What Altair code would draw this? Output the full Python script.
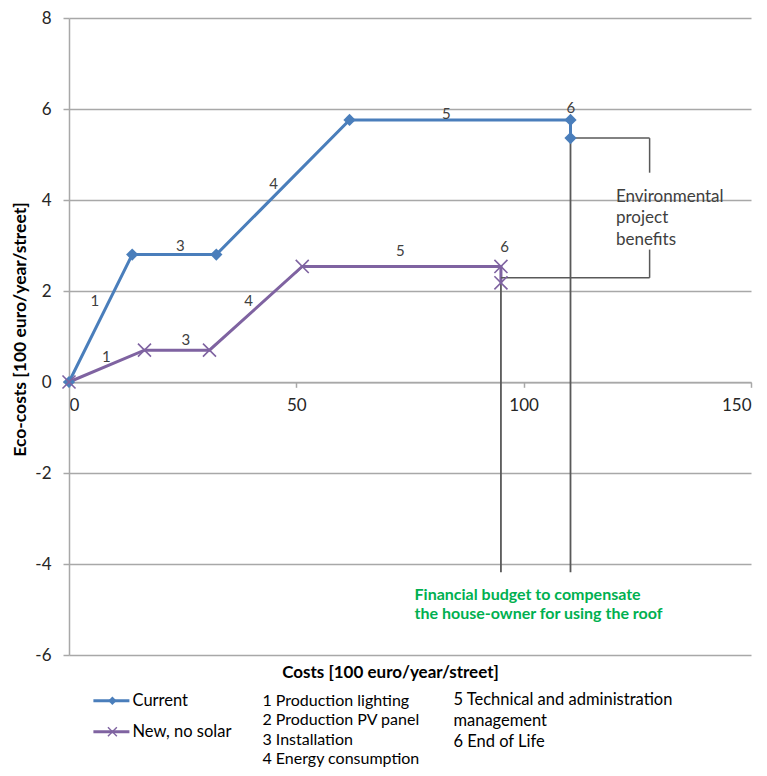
import altair as alt
import pandas as pd

# ---- data ----
series = ["Current", "New, no solar"]
colors = ["#4a7ebb", "#7f63a1"]

cur_x = [0, 13.9, 32.4, 61.7, 110.3, 110.3]
cur_y = [0, 2.80, 2.80, 5.76, 5.76, 5.36]
new_x = [0, 16.6, 30.9, 51.3, 95.0, 95.0]
new_y = [0, 0.70, 0.70, 2.54, 2.54, 2.18]

cur_lab = ["1", "3", "4", "5", "6"]
cur_lab_x = [5.7, 24.5, 45.0, 83.0, 110.4]
cur_lab_y = [1.77, 3.00, 4.36, 5.90, 6.03]
new_lab = ["1", "3", "4", "5", "6"]
new_lab_x = [8.2, 25.7, 39.5, 72.9, 95.8]
new_lab_y = [0.55, 0.92, 1.77, 2.89, 2.97]

# drop lines from end-of-life points
drop_x = [110.3, 95.0]
drop_top = [5.36, 2.18]
drop_bottom = [-4.18, -4.18]

# bracket for "Environmental project benefits"
br_x1 = [110.3, 127.7, 95.0, 127.7]
br_y1 = [5.36, 5.36, 2.29, 2.29]
br_x2 = [127.7, 127.7, 127.7, 127.7]
br_y2 = [5.36, 4.60, 2.29, 2.91]

env_text = ["Environmental", "project", "benefits"]
env_x = [120.3]
env_y = [4.25]
fin_text = ["Financial budget to compensate", "the house-owner for using the roof"]
fin_x = [76.0]
fin_y = [-4.51]

steps = ["1 Production lighting", "2 Production PV panel", "3 Installation",
         "4 Energy consumption", "5 Technical and administration management",
         "6 End of Life"]

x_ticks = [0, 50, 100, 150]
y_ticks = [-6, -4, -2, 0, 2, 4, 6, 8]

FONT = "Lato"
GRID = "#a8a8a8"
TXT = "#262626"

# ---- tables ----
lines_df = pd.DataFrame({
    "x": cur_x + new_x,
    "y": cur_y + new_y,
    "series": [series[0]] * len(cur_x) + [series[1]] * len(new_x),
    "idx": list(range(len(cur_x))) + list(range(len(new_x))),
})
cur_df = lines_df[lines_df.series == series[0]]
new_df = lines_df[lines_df.series == series[1]]
lab_df = pd.DataFrame({"x": cur_lab_x + new_lab_x, "y": cur_lab_y + new_lab_y,
                       "t": cur_lab + new_lab})
drop_df = pd.DataFrame({"x": drop_x, "y": drop_top, "y2": drop_bottom})
br_df = pd.DataFrame({"x": br_x1, "y": br_y1, "x2": br_x2, "y2": br_y2})

xs = alt.Scale(domain=[0, 150], nice=False)
ys = alt.Scale(domain=[-6, 8], nice=False)

x_axis = alt.Axis(values=x_ticks, grid=False, offset=-272.7, domainColor=GRID,
                  domainWidth=1.5, tickColor=GRID, tickWidth=1.5, tickSize=5,
                  labelPadding=10, labelFontSize=17, labelFont=FONT, labelColor=TXT,
                  title="Costs [100 euro/year/street]", titleFont=FONT,
                  titleFontSize=17, titleFontWeight="bold", titleColor="#000",
                  titleX=321, titleY=282, titleBaseline="top")
y_axis = alt.Axis(values=y_ticks, grid=True, gridColor=GRID, gridWidth=1.5,
                  domainColor=GRID, domainWidth=1.5, tickColor=GRID, tickWidth=1.5,
                  tickSize=6, labelPadding=12, labelFontSize=17, labelFont=FONT,
                  labelColor=TXT, labelExpr="datum.value + ''",
                  title="Eco-costs [100 euro/year/street]", titleFont=FONT,
                  titleFontSize=17.5, titleFontWeight="bold", titleColor="#000",
                  titleX=-48.6, titleY=311, titleBaseline="middle", titleAlign="center")

base = alt.Chart(lines_df).mark_line(strokeWidth=3).encode(
    x=alt.X("x:Q", scale=xs, axis=x_axis),
    y=alt.Y("y:Q", scale=ys, axis=y_axis),
    color=alt.Color("series:N", scale=alt.Scale(domain=series, range=colors), legend=None),
    order="idx:Q",
)

drops = alt.Chart(drop_df).mark_rule(color="#595959", strokeWidth=1.8).encode(
    x="x:Q", y="y:Q", y2="y2:Q")
brackets = alt.Chart(br_df).mark_rule(color="#595959", strokeWidth=1.5).encode(
    x="x:Q", y="y:Q", x2="x2:Q", y2="y2:Q")

X_PATH = "M-1,-1L1,1M1,-1L-1,1"
cur_pts = alt.Chart(cur_df).mark_point(shape="diamond", filled=True, size=150,
                                       color=colors[0], opacity=1).encode(x="x:Q", y="y:Q")
new_pts = alt.Chart(new_df).mark_point(shape=X_PATH, filled=False, size=170,
                                       strokeWidth=1.6, color=colors[1], opacity=1).encode(
    x="x:Q", y="y:Q")

labels = alt.Chart(lab_df).mark_text(font=FONT, fontSize=15, color="#404040",
                                     align="center", baseline="middle").encode(
    x="x:Q", y="y:Q", text="t:N")

env = alt.Chart(pd.DataFrame({"x": env_x, "y": env_y})).mark_text(
    text=env_text, font=FONT, fontSize=17, color="#404040", align="left",
    baseline="top", lineHeight=21.5).encode(x="x:Q", y="y:Q")
fin = alt.Chart(pd.DataFrame({"x": fin_x, "y": fin_y})).mark_text(
    text=fin_text, font=FONT, fontSize=16, fontWeight="bold", color="#00b050",
    align="left", baseline="top", lineHeight=19).encode(x="x:Q", y="y:Q")

# ---- manual legend below the plot ----
leg_layers = []
for i, (name, yy) in enumerate(zip(series, [682.7, 713.7])):
    d = pd.DataFrame({"s": [name]})
    leg_layers.append(alt.Chart(d).mark_rule(color=colors[i], strokeWidth=3).encode(
        x=alt.value(24.4), x2=alt.value(60.4), y=alt.value(yy)))
    if i == 0:
        leg_layers.append(alt.Chart(d).mark_point(shape="diamond", filled=True, size=70,
                                                  color=colors[i], opacity=1).encode(
            x=alt.value(43.4), y=alt.value(yy)))
    else:
        leg_layers.append(alt.Chart(d).mark_point(shape=X_PATH, filled=False, size=80,
                                                  strokeWidth=1.4, color=colors[i],
                                                  opacity=1).encode(
            x=alt.value(43.4), y=alt.value(yy)))
    leg_layers.append(alt.Chart(d).mark_text(font=FONT, fontSize=16.5, color="#000",
                                             align="left", baseline="middle").encode(
        x=alt.value(63.5), y=alt.value(yy), text="s:N"))

s5a, s5b = steps[4].rsplit(" ", 1)
col1 = steps[:4]
col2 = [s5a, s5b, steps[5]]
one = pd.DataFrame({"a": [0]})
c1 = alt.Chart(one).mark_text(text=col1, font=FONT, fontSize=16, color="#000",
                              align="left", baseline="top", lineHeight=19.5).encode(
    x=alt.value(193.4), y=alt.value(674.5))
c2 = alt.Chart(one).mark_text(text=col2, font=FONT, fontSize=16.5, color="#000",
                              align="left", baseline="top", lineHeight=21.3).encode(
    x=alt.value(384.4), y=alt.value(673.9))

chart = alt.layer(base, drops, brackets, cur_pts, new_pts, labels, env, fin,
                  *leg_layers, c1, c2).properties(
    width=682, height=637,
    autosize=alt.AutoSizeParams(type="none"),
    padding={"left": 61, "top": 10, "right": 8, "bottom": 113},
    background="white",
).configure_view(stroke=None)

chart.save("out.html", embed_options={"renderer": "svg", "actions": False})
